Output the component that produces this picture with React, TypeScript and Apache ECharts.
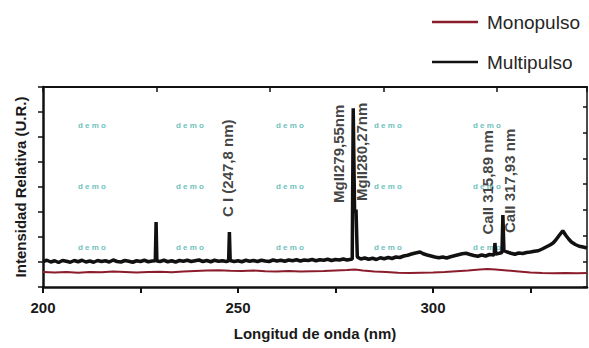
import React, { useEffect, useRef } from "react";
import * as echarts from "echarts";

// Monopulso (red) spectrum: [wavelength nm, relative intensity]
const monopulso: [number, number][] = [
  [200, 0.6], [203, 0.58], [206, 0.6], [209, 0.57], [212, 0.6], [215, 0.59],
  [218, 0.62], [221, 0.6], [224, 0.58], [227, 0.6], [230, 0.61], [233, 0.59],
  [236, 0.62], [239, 0.64], [242, 0.66], [245, 0.67], [248, 0.65], [251, 0.64],
  [254, 0.66], [257, 0.63], [260, 0.62], [263, 0.64], [266, 0.62], [269, 0.63],
  [272, 0.64], [275, 0.66], [278, 0.68], [280, 0.7], [282, 0.66], [285, 0.62],
  [288, 0.6], [291, 0.57], [294, 0.56], [297, 0.57], [300, 0.58], [303, 0.6],
  [306, 0.63], [309, 0.66], [312, 0.7], [314, 0.72], [316, 0.7], [319, 0.66],
  [322, 0.62], [325, 0.58], [328, 0.56], [331, 0.55], [334, 0.56], [337, 0.55],
  [339.5, 0.56],
];

// Multipulso (black) spectrum
const multipulso: [number, number][] = [
  [200, 1.02], [201, 1.07], [202, 1.0], [203, 1.05], [204, 0.98], [205, 1.06],
  [206, 1.03], [207, 0.99], [208, 1.06], [209, 1.01], [210, 1.07], [211, 1.0],
  [212, 1.04], [213, 0.99], [214, 1.06], [215, 1.02], [216, 1.05], [217, 1.0],
  [218, 1.08], [219, 1.02], [220, 1.0], [221, 1.06], [222, 1.03], [223, 0.99],
  [224, 1.05], [225, 1.02], [226, 1.07], [227, 1.01], [228, 1.04], [228.8, 1.05],
  [229, 2.6], [229.2, 1.04], [230, 1.02], [231, 1.07], [232, 1.01], [233, 1.05],
  [234, 1.0], [235, 1.06], [236, 1.03], [237, 1.07], [238, 1.02], [239, 1.05],
  [240, 1.08], [241, 1.02], [242, 1.06], [243, 1.01], [244, 1.07], [245, 1.03],
  [246, 1.05], [247, 1.02], [247.6, 1.05], [247.8, 2.2], [248, 1.06], [249, 1.02],
  [250, 1.05], [251, 1.01], [252, 1.07], [253, 1.03], [254, 1.06], [255, 1.02],
  [256, 1.07], [257, 1.04], [258, 1.02], [259, 1.08], [260, 1.04], [261, 1.07],
  [262, 1.03], [263, 1.08], [264, 1.05], [265, 1.09], [266, 1.04], [267, 1.08],
  [268, 1.06], [269, 1.1], [270, 1.05], [271, 1.09], [272, 1.07], [273, 1.11],
  [274, 1.06], [275, 1.1], [276, 1.08], [277, 1.12], [278, 1.08], [279.3, 1.12],
  [279.55, 7.15], [279.9, 3.0], [280.27, 3.1], [280.6, 1.2], [281.5, 1.12],
  [282.5, 1.16], [283.5, 1.11], [284.5, 1.15], [285.5, 1.1], [286.5, 1.17],
  [287.5, 1.13], [288.5, 1.18], [289.5, 1.14], [290.5, 1.2], [291.5, 1.18],
  [292.5, 1.24], [293.5, 1.27], [294.5, 1.32], [295.5, 1.36], [296.7, 1.4],
  [297.5, 1.33], [298.5, 1.28], [299.5, 1.24], [300.5, 1.2], [301.5, 1.17],
  [302.5, 1.2], [303.5, 1.16], [304.5, 1.21], [305.5, 1.25], [306.5, 1.29],
  [307.5, 1.33], [308.5, 1.35], [309.5, 1.3], [310.5, 1.26], [311.5, 1.23],
  [312.5, 1.28], [313.5, 1.24], [314.5, 1.3], [315.7, 1.28], [315.89, 1.76],
  [316.1, 1.32], [317, 1.35], [317.7, 1.38], [317.93, 2.88], [318.2, 1.45],
  [319, 1.4], [320, 1.35], [321, 1.31], [322, 1.36], [323, 1.34], [324, 1.38],
  [325, 1.4], [326, 1.43], [327, 1.45], [328, 1.52], [329, 1.6], [330, 1.68],
  [330.8, 1.76], [331.5, 1.88], [332.3, 2.05], [333.3, 2.25], [334, 2.08],
  [334.8, 1.92], [335.5, 1.8], [336.5, 1.7], [337.5, 1.63], [338.5, 1.6],
  [339.5, 1.56],
];

// Peak annotations: label text and where the label's foot sits (data units)
const annotationLabels = [
  "C I (247,8 nm)",
  "MgII279,55nm",
  "MgII280,27nm",
  "CaII 315,89 nm",
  "CaII 317,93 nm",
];
const annotationX = [247.4, 275.9, 281.8, 314.1, 319.7];
const annotationY = [2.8, 3.36, 3.44, 2.1, 2.16];

const xTickLabels = [200, 250, 300];

const FONT = "'Liberation Sans', Arial, Helvetica, sans-serif";

export default function App() {
  const ref = useRef<HTMLDivElement>(null);

  useEffect(() => {
    if (!ref.current) return;
    const chart = echarts.init(ref.current, undefined, { renderer: "svg" });

    const wmCols = [92, 190, 290, 388, 487];
    const wmRows = [125, 186, 247];
    const watermarks: any[] = [];
    wmRows.forEach((y) =>
      wmCols.forEach((x) =>
        watermarks.push({
          type: "text",
          x,
          y,
          silent: true,
          z: 1,
          style: {
            text: "d e m o",
            fill: "#6fc2bd",
            font: `bold 8px ${FONT}`,
            align: "center",
            verticalAlign: "middle",
          },
        })
      )
    );

    const option: any = {
      animation: false,
      backgroundColor: "#ffffff",
      textStyle: { fontFamily: FONT },
      grid: { left: 43, right: 2, top: 87, bottom: 61, containLabel: false },
      legend: {
        data: ["Monopulso", "Multipulso"],
        orient: "vertical",
        left: 432,
        top: 12,
        icon: "rect",
        itemWidth: 46,
        itemHeight: 2.5,
        itemGap: 20,
        itemStyle: { borderWidth: 0, borderColor: "rgba(0,0,0,0)" },
        textStyle: {
          fontFamily: FONT,
          fontSize: 19,
          lineHeight: 20,
          color: "#262626",
          padding: [0, 0, 0, 4],
        },
        padding: 0,
      },
      xAxis: [
        {
          type: "value",
          min: 200,
          max: 339.5,
          interval: 25,
          position: "bottom",
          name: "Longitud de onda (nm)",
          nameLocation: "middle",
          nameGap: 39,
          nameTextStyle: {
            fontFamily: FONT,
            fontWeight: "bold",
            fontSize: 15,
            color: "#1a1a1a",
          },
          axisLine: { show: true, lineStyle: { color: "#111", width: 2.5 } },
          axisTick: { show: true, inside: false, length: 6, lineStyle: { color: "#111", width: 2 } },
          axisLabel: {
            show: true,
            margin: 13,
            fontFamily: FONT,
            fontWeight: "bold",
            fontSize: 15,
            color: "#1a1a1a",
            formatter: (v: number) => (xTickLabels.includes(v) ? String(v) : ""),
            showMaxLabel: false,
          },
          splitLine: { show: false },
        },
        {
          type: "value",
          position: "top",
          min: 88.5,
          max: 632.5,
          interval: 113.5,
          axisLine: { show: true, lineStyle: { color: "#111", width: 2 } },
          axisTick: { show: true, inside: true, length: 5, lineStyle: { color: "#111", width: 1.5 } },
          axisLabel: { show: false },
          splitLine: { show: false },
        },
      ],
      yAxis: [
        {
          type: "value",
          min: 0,
          max: 8,
          interval: 1,
          position: "left",
          name: "Intensidad Relativa (U.R.)",
          nameLocation: "middle",
          nameGap: 15,
          nameTextStyle: {
            fontFamily: FONT,
            fontWeight: "bold",
            fontSize: 15,
            color: "#1a1a1a",
          },
          axisLine: { show: true, lineStyle: { color: "#111", width: 2.5 } },
          axisTick: { show: true, inside: false, length: 5, lineStyle: { color: "#111", width: 1.5 } },
          axisLabel: { show: false },
          splitLine: { show: false },
        },
        {
          type: "value",
          position: "right",
          min: 16.7,
          max: 216.7,
          interval: 25.7,
          axisLine: { show: true, lineStyle: { color: "#111", width: 1.5 } },
          axisTick: { show: true, inside: true, length: 4, lineStyle: { color: "#111", width: 1.5 } },
          axisLabel: { show: false },
          splitLine: { show: false },
        },
      ],
      graphic: watermarks,
      series: [
        {
          name: "Monopulso",
          type: "line",
          xAxisIndex: 0,
          yAxisIndex: 0,
          data: monopulso,
          showSymbol: false,
          symbol: "none",
          color: "#8b1c2c",
          lineStyle: { color: "#8b1c2c", width: 2 },
          z: 3,
        },
        {
          name: "Multipulso",
          type: "line",
          xAxisIndex: 0,
          yAxisIndex: 0,
          data: multipulso,
          showSymbol: false,
          symbol: "none",
          color: "#111111",
          lineStyle: { color: "#111111", width: 3.5 },
          z: 4,
        },
        {
          name: "labels",
          type: "scatter",
          xAxisIndex: 0,
          yAxisIndex: 0,
          symbolSize: 0,
          silent: true,
          z: 5,
          data: annotationLabels.map((t, i) => ({
            name: t,
            value: [annotationX[i], annotationY[i]],
          })),
          label: {
            show: true,
            position: "inside",
            formatter: "{b}",
            rotate: 90,
            align: "left",
            verticalAlign: "middle",
            fontFamily: FONT,
            fontWeight: "bold",
            fontSize: 15,
            color: "#111",
          },
        },
      ],
    };

    chart.setOption(option);
    return () => chart.dispose();
  }, []);

  return (
    <div
      ref={ref}
      style={{ position: "fixed", left: 0, top: 0, width: 589, height: 348 }}
    />
  );
}
